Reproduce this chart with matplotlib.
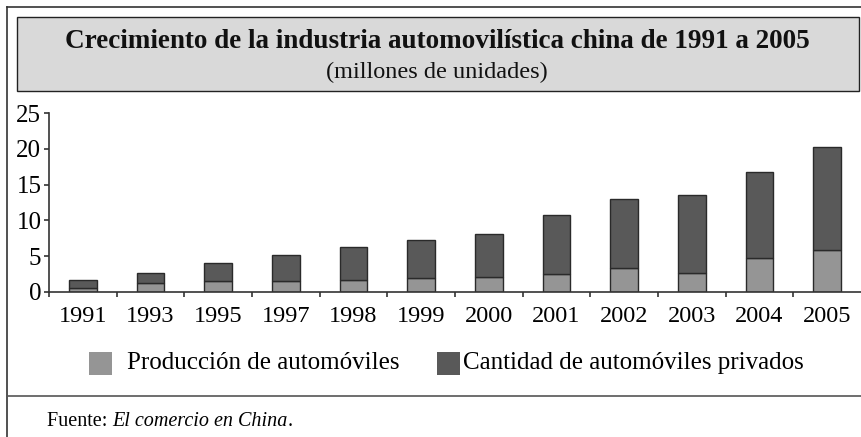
import matplotlib
matplotlib.use("Agg")
import matplotlib.pyplot as plt
from matplotlib.patches import Rectangle
from matplotlib.lines import Line2D
import numpy as np

years = ["1991", "1993", "1995", "1997", "1998", "1999",
         "2000", "2001", "2002", "2003", "2004", "2005"]
produccion = [0.6, 1.3, 1.5, 1.5, 1.7, 1.9, 2.1, 2.5, 3.4, 2.7, 4.8, 5.9]
privados = [1.1, 1.4, 2.5, 3.6, 4.6, 5.4, 6.0, 8.2, 9.6, 10.9, 12.0, 14.4]

light = "#959595"
dark = "#595959"
edge = "#2a2a2a"
font = "Liberation Serif"

W, H = 862, 437
fig = plt.figure(figsize=(W / 100, H / 100), dpi=100)
plt.rcParams['font.family'] = font

def fx(px):
    return px / W

def fy(py):
    return 1 - py / H

# outer frame lines
fig.add_artist(Line2D([fx(7), fx(7)], [fy(7), 0], color="#333333", lw=1.2))
fig.add_artist(Line2D([fx(7), 1], [fy(7), fy(7)], color="#333333", lw=1.2))
fig.add_artist(Line2D([fx(7), 1], [fy(396), fy(396)], color="#555555", lw=1.2))

# title box
fig.add_artist(Rectangle((fx(17), fy(91)), fx(859) - fx(17), fy(17) - fy(91),
                         transform=fig.transFigure, facecolor="#d9d9d9",
                         edgecolor="#222222", lw=1.0))
fig.text(fx(437), fy(42), "Crecimiento de la industria automovilística china de 1991 a 2005",
         ha="center", va="center", fontsize=19.5, fontweight="bold", color="#111111")
fig.text(fx(437), fy(72), "(millones de unidades)",
         ha="center", va="center", fontsize=17.5, color="#111111")

# axes
ax = fig.add_axes([fx(49), fy(292), fx(861) - fx(49), fy(113) - fy(292)])
x = np.arange(len(years))
ax.bar(x, produccion, width=0.41, color=light, edgecolor=edge, lw=1.0)
ax.bar(x, privados, width=0.41, bottom=produccion, color=dark, edgecolor=edge, lw=1.0)

ax.set_xlim(-0.5, len(years) - 0.5)
ax.set_ylim(0, 25)
ax.set_yticks([0, 5, 10, 15, 20, 25])
ax.set_xticks(x)
ax.set_xticklabels(years)
ax.set_xticks(np.arange(len(years)) - 0.5, minor=True)
ax.tick_params(axis="x", which="major", length=0, pad=10, labelsize=17.5)
ax.tick_params(axis="x", which="minor", length=3.5, width=1.2, color="#333333")
ax.tick_params(axis="y", length=3.5, width=1.2, color="#333333", pad=2, labelsize=18)
for s in ["top", "right"]:
    ax.spines[s].set_visible(False)
for s in ["left", "bottom"]:
    ax.spines[s].set_color("#333333")
    ax.spines[s].set_linewidth(1.2)

# legend
fig.add_artist(Rectangle((fx(89), fy(375)), fx(23), fy(0) - fy(23),
                         transform=fig.transFigure, facecolor=light, edgecolor="none"))
fig.text(fx(127), fy(363), "Producción de automóviles", ha="left", va="center", fontsize=18)
fig.add_artist(Rectangle((fx(437), fy(375)), fx(23), fy(0) - fy(23),
                         transform=fig.transFigure, facecolor=dark, edgecolor="none"))
fig.text(fx(463), fy(363), "Cantidad de automóviles privados", ha="left", va="center", fontsize=18)

# source
t = fig.text(fx(47), fy(421), "Fuente: ", ha="left", va="center", fontsize=14.5)
fig.canvas.draw()
bb = t.get_window_extent()
t2 = fig.text(bb.x1 / W, fy(421), "El comercio en China", ha="left", va="center",
              fontsize=14.5, style="italic")
fig.canvas.draw()
bb2 = t2.get_window_extent()
fig.text(bb2.x1 / W, fy(421), ".", ha="left", va="center", fontsize=14.5)

fig.savefig("out.png", dpi=100)
